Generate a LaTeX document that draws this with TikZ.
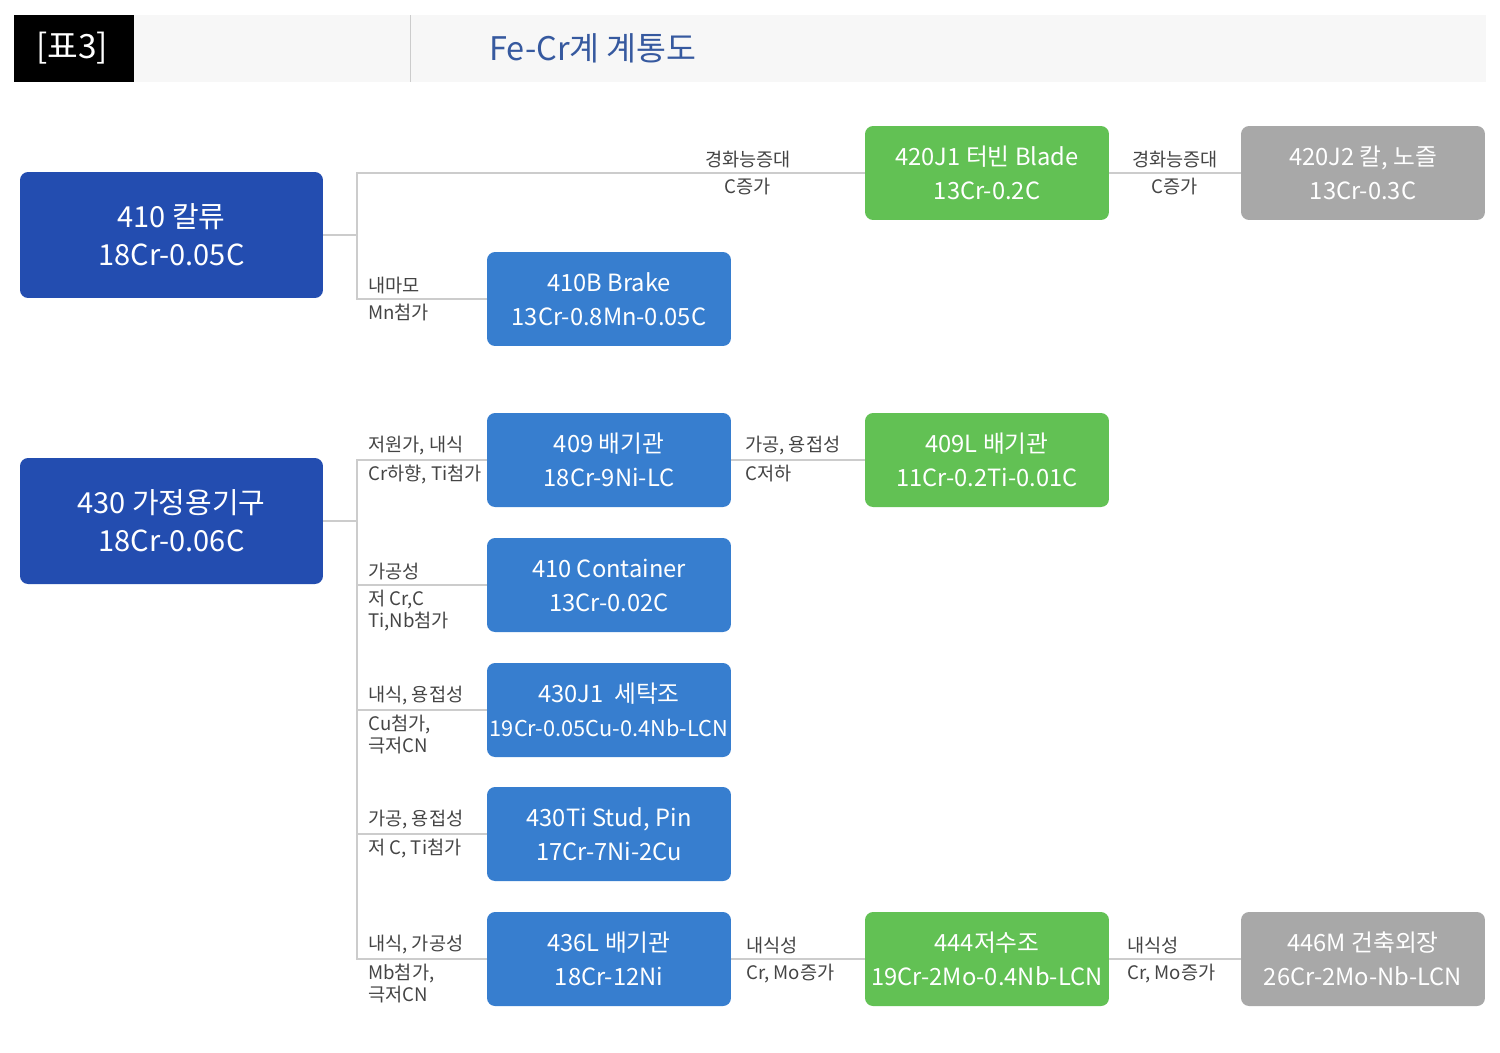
\documentclass[tikz,border=0pt]{standalone}
\usepackage{fontspec}
\setmainfont{Noto Sans CJK KR}
\usepackage{xcolor}
\usepackage{tikz}

\definecolor{rootblue}{RGB}{35,77,176}
\definecolor{gradeblue}{RGB}{55,126,207}
\definecolor{gradegreen}{RGB}{98,193,84}
\definecolor{gradegray}{RGB}{168,168,168}
\definecolor{linegray}{RGB}{204,204,204}
\definecolor{labelgray}{RGB}{68,68,68}
\definecolor{titleblue}{RGB}{54,89,159}
\definecolor{headbg}{RGB}{247,247,247}

\begin{document}
\begin{tikzpicture}[x=0.02cm, y=-0.02cm,
    rootbox/.style={fill=rootblue, text=white, rounded corners=0.16cm, minimum width=6.06cm, minimum height=2.52cm, inner sep=0pt, align=center, font=\fontsize{16.5}{21.5}\selectfont},
    gradebox/.style={fill=gradeblue, text=white, rounded corners=0.16cm, minimum width=4.88cm, minimum height=1.88cm, inner sep=0pt, align=center, font=\fontsize{13.5}{19.3}\selectfont},
    greenbox/.style={gradebox, fill=gradegreen},
    graybox/.style={gradebox, fill=gradegray},
    link/.style={draw=linegray, line width=0.6pt},
    uplabel/.style={anchor=south west, inner sep=0pt, text=labelgray, align=left, font=\fontsize{10.6}{12.5}\selectfont},
    downlabel/.style={uplabel, anchor=north west}]
        \useasboundingbox (0,0) rectangle (1500,1052);

        % Header
        \fill[headbg] (134,15) rectangle (1486,82);
        \fill[black] (14,15) rectangle (134,82);
        \draw[linegray, line width=0.5pt] (410,15) -- (410,82);
        \node[text=white, font=\fontsize{19}{22}\selectfont] (tag) at (72,48) {[표3]};
        \node[text=titleblue, font=\fontsize{18.5}{22}\selectfont] (title) at (593,48) {Fe-Cr계 계통도};

        % Boxes
        \node[rootbox] (r410) at (171.5,235) {410 칼류\\18Cr-0.05C};
        \node[rootbox] (r430) at (171.5,521) {430 가정용기구\\18Cr-0.06C};

        \node[gradebox] (c410b) at (609,299) {410B Brake\\13Cr-0.8Mn-0.05C};
        \node[gradebox] (c409) at (609,460) {409 배기관\\18Cr-9Ni-LC};
        \node[gradebox] (c410c) at (609,585) {410 Container\\13Cr-0.02C};
        \node[gradebox] (c430j1) at (609,710) {430J1 \ 세탁조\\{\fontsize{12.4}{19.3}\selectfont 19Cr-0.05Cu-0.4Nb-LCN}};
        \node[gradebox] (c430ti) at (609,834) {430Ti Stud, Pin\\17Cr-7Ni-2Cu};
        \node[gradebox] (c436l) at (609,959) {436L 배기관\\18Cr-12Ni};

        \node[greenbox] (g420j1) at (987,173) {420J1 터빈 Blade\\13Cr-0.2C};
        \node[greenbox] (g409l) at (987,460) {409L 배기관\\11Cr-0.2Ti-0.01C};
        \node[greenbox] (g444) at (987,959) {444저수조\\19Cr-2Mo-0.4Nb-LCN};

        \node[graybox] (s420j2) at (1363,173) {420J2 칼, 노즐\\13Cr-0.3C};
        \node[graybox] (s446m) at (1363,959) {446M 건축외장\\26Cr-2Mo-Nb-LCN};

        % Lines
        \coordinate (b410) at (357,235);
        \coordinate (b430) at (357,521);
        \draw[link] (r410.east) -- (b410) |- (g420j1.west);
        \draw[link] (b410) |- (c410b.west);
        \draw[link] (r430.east) -- (b430) |- (c409.west);
        \draw[link] (b430) |- (c410c.west);
        \draw[link] (b430) |- (c430j1.west);
        \draw[link] (b430) |- (c430ti.west);
        \draw[link] (b430) |- (c436l.west);
        \draw[link] (c409.east) -- (g409l.west);
        \draw[link] (c436l.east) -- (g444.west);
        \draw[link] (g420j1.east) -- (s420j2.west);
        \draw[link] (g444.east) -- (s446m.west);

        % Text on lines
        \node[uplabel, anchor=south] (l1a) at (748,168) {경화능증대};
        \node[downlabel, anchor=north] (l1b) at (748,178) {C증가};
        \node[uplabel, anchor=south] (l2a) at (1175,168) {경화능증대};
        \node[downlabel, anchor=north] (l2b) at (1175,178) {C증가};

        \node[uplabel] (l3a) at (368,294) {내마모};
        \node[downlabel] (l3b) at (368,304) {Mn첨가};

        \node[uplabel] (l4a) at (368,455) {저원가, 내식};
        \node[downlabel] (l4b) at (368,465) {Cr하향, Ti첨가};
        \node[uplabel] (l5a) at (745,455) {가공, 용접성};
        \node[downlabel] (l5b) at (745,465) {C저하};

        \node[uplabel] (l6a) at (368,580) {가공성};
        \node[downlabel] (l6b) at (368,590) {저 Cr,C\\Ti,Nb첨가};

        \node[uplabel] (l7a) at (368,705) {내식, 용접성};
        \node[downlabel] (l7b) at (368,715) {Cu첨가,\\극저CN};

        \node[uplabel] (l8a) at (368,829) {가공, 용접성};
        \node[downlabel] (l8b) at (368,839) {저 C, Ti첨가};

        \node[uplabel] (l9a) at (368,954) {내식, 가공성};
        \node[downlabel] (l9b) at (368,964) {Mb첨가,\\극저CN};
        \node[uplabel] (l10a) at (746,954) {내식성};
        \node[downlabel] (l10b) at (746,964) {Cr, Mo증가};
        \node[uplabel] (l11a) at (1127,954) {내식성};
        \node[downlabel] (l11b) at (1127,964) {Cr, Mo증가};

\end{tikzpicture}
\end{document}
